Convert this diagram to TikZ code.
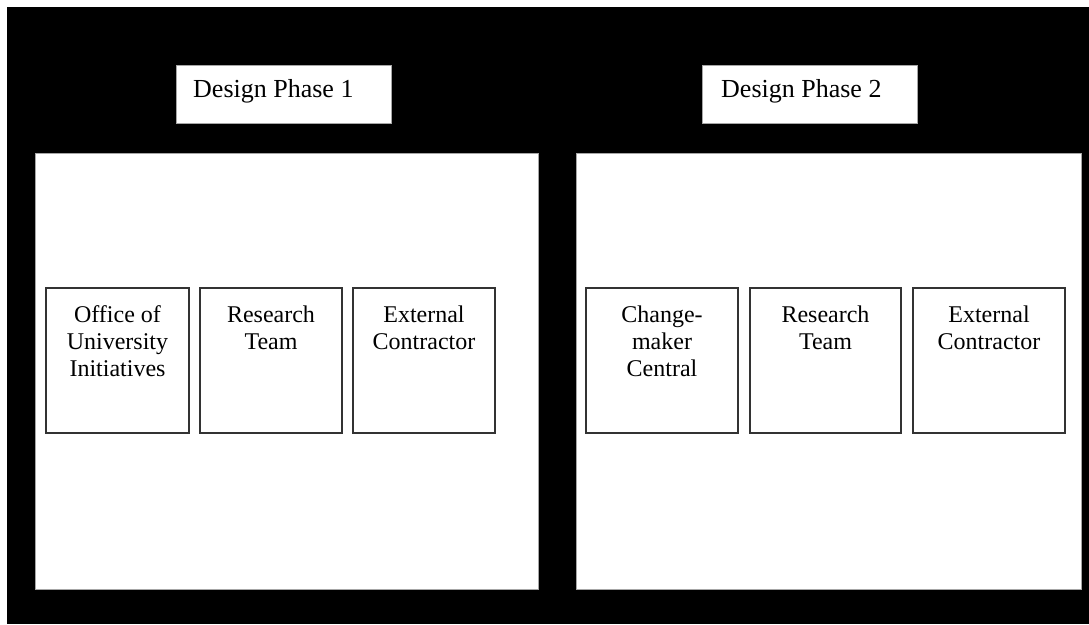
\documentclass[tikz,border=0pt]{standalone}
\usepackage{fontspec}
\setmainfont{Liberation Serif}
\begin{document}
\begin{tikzpicture}[x=1pt,y=-1pt,
    panel/.style={draw=gray!70,line width=1pt,fill=white,minimum width=#1,minimum height=436pt,inner sep=0pt},
    phase/.style={draw=gray!70,line width=1pt,fill=white,minimum width=215pt,minimum height=58pt,inner sep=0pt},
    phasetext/.style={anchor=base west,inner sep=0pt,font=\fontsize{26}{30}\selectfont},
    member/.style={draw=black!80,line width=1.3pt,fill=white,minimum width=#1,minimum height=145pt,inner sep=0pt},
    membertext/.style={anchor=north,inner sep=0pt,align=center,font=\fontsize{24}{27}\selectfont}]
    \useasboundingbox (0,0) rectangle (1089,624);
    \fill[white](0,0) rectangle (1089,624);
    \fill[black](7,7) rectangle (1089,624);
    % the two phases
    \node[phase] (ph1) at (283.5,94) {};
    \node[phasetext] at (193,97) {Design Phase 1};
    \node[phase] (ph2) at (810,94) {};
    \node[phasetext] at (721,97) {Design Phase 2};
    \node[panel=503pt] (pa1) at (286.5,371) {};
    \node[panel=505pt] (pa2) at (828.5,371) {};
    % phase 1 members
    \node[member=143pt] (oui) at (117.5,360.5) {};
    \node[member=142pt] (rt1) at (271,360.5) {};
    \node[member=142pt] (ec1) at (424,360.5) {};
    \node[membertext] at ([yshift=-18pt]oui.north) {Office of\\University\\Initiatives};
    \node[membertext] at ([yshift=-18pt]rt1.north) {Research\\Team};
    \node[membertext] at ([yshift=-18pt]ec1.north) {External\\Contractor};
    % phase 2 members
    \node[member=152pt] (cmc) at (662,360.5) {};
    \node[member=151pt] (rt2) at (825.5,360.5) {};
    \node[member=152pt] (ec2) at (989,360.5) {};
    \node[membertext] at ([yshift=-18pt]cmc.north) {Change-\\maker\\Central};
    \node[membertext] at ([yshift=-18pt]rt2.north) {Research\\Team};
    \node[membertext] at ([yshift=-18pt]ec2.north) {External\\Contractor};
\end{tikzpicture}
\end{document}
